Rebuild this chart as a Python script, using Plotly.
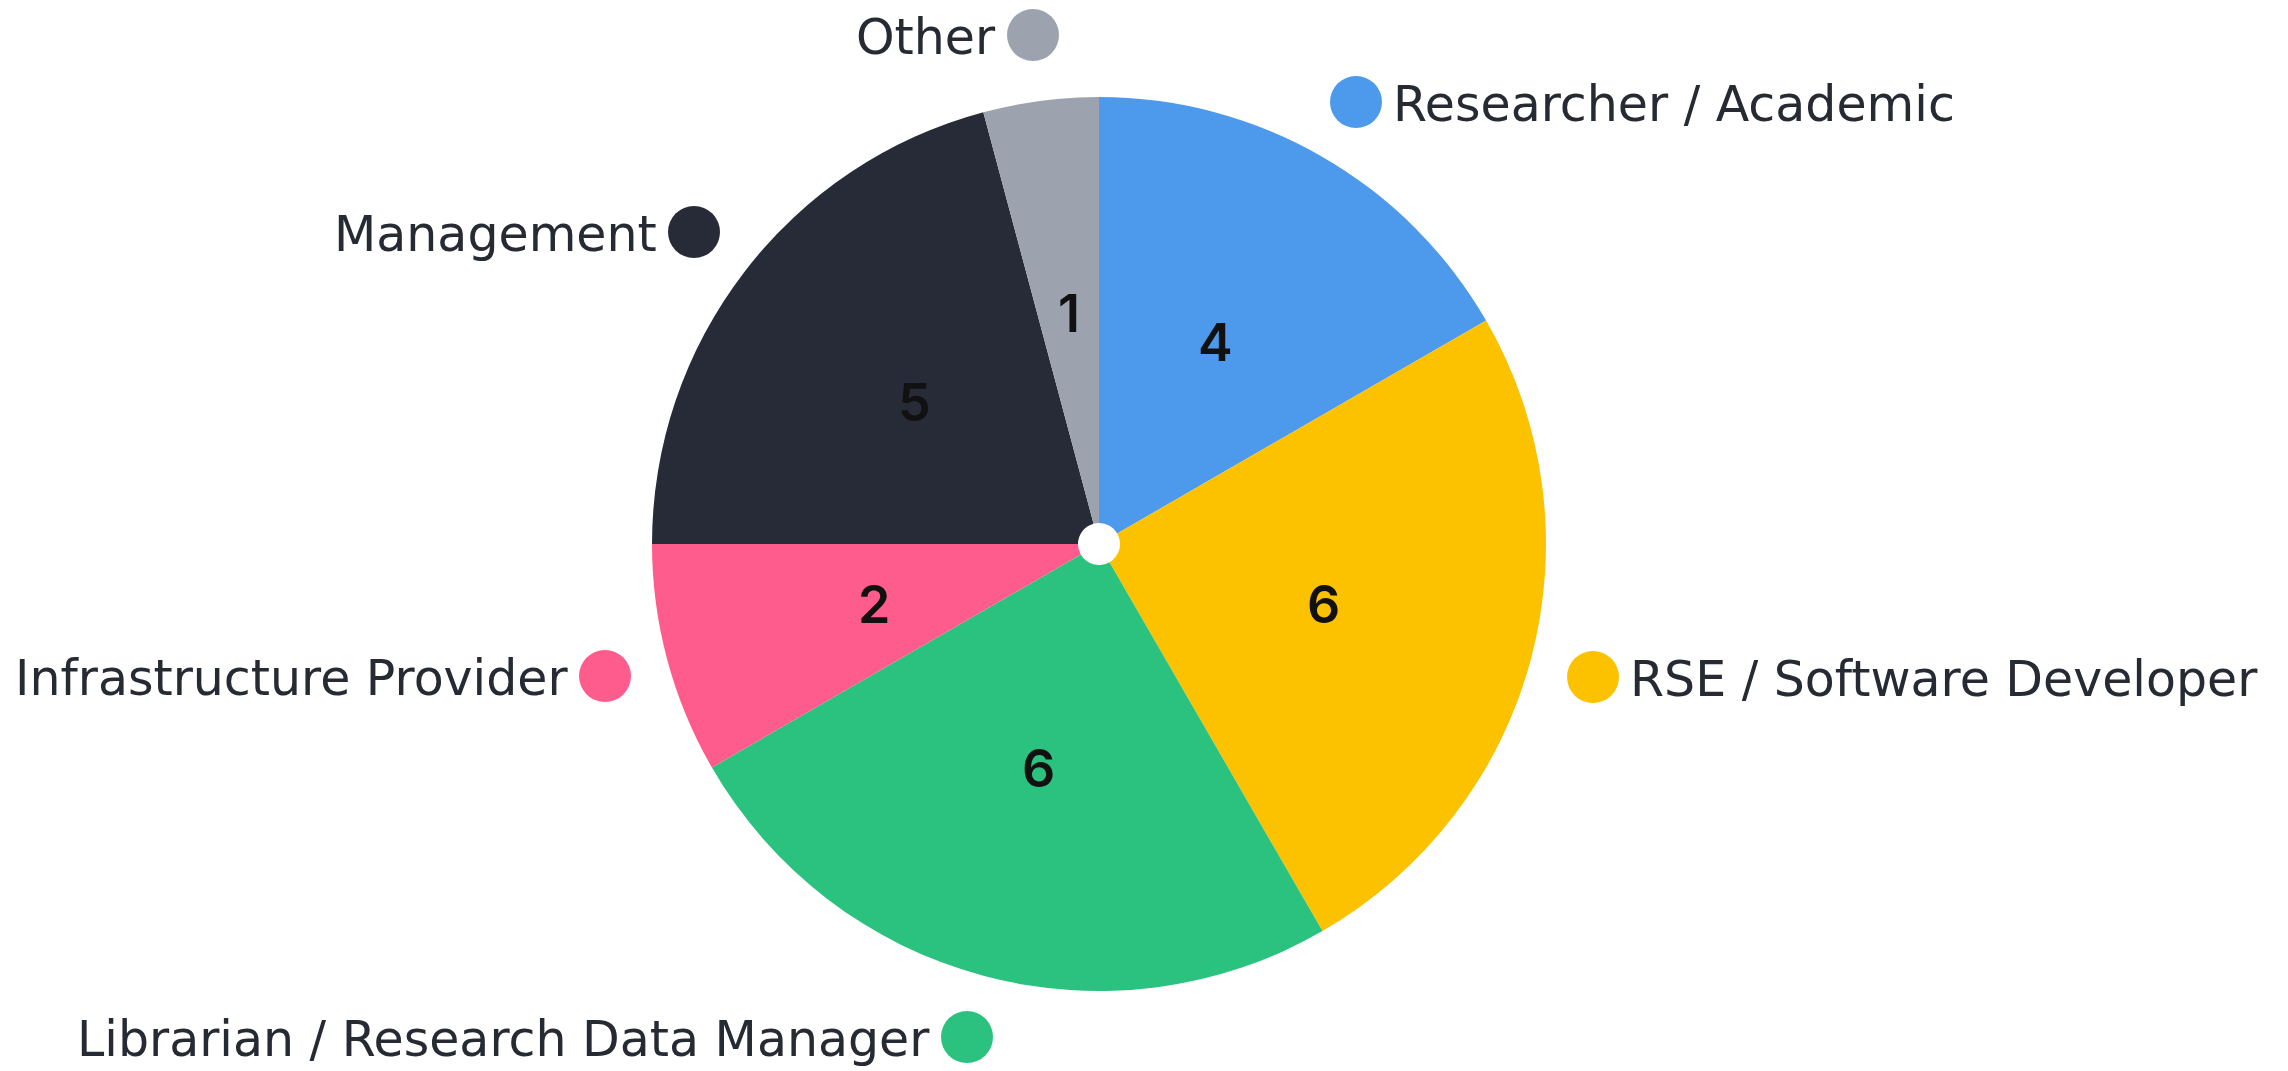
import math
import plotly.graph_objects as go

# ---- data ----
categories = ["Researcher / Academic", "RSE / Software Developer",
              "Librarian / Research Data Manager", "Infrastructure Provider",
              "Management", "Other"]
counts = [4, 6, 6, 2, 5, 1]
colors = ["#4D9AEC", "#FCC200", "#2AC27E", "#FF5C8E", "#262B37", "#9CA3AF"]

W, H = 2288, 1071
LABEL_FONT = "'DejaVu Sans', 'Noto Sans', sans-serif"
NUM_FONT = "Inter, 'DejaVu Sans', sans-serif"
TEXT_COL = "#262A33"
OFF = 8  # page body margin

# pie geometry (pixels, in page coordinates)
cx, cy, r = 1099, 544, 447

def px(x):
    return (x - OFF) / W

def py(y):
    return 1 - (y - OFF) / H

fig = go.Figure(go.Pie(
    labels=categories,
    values=counts,
    sort=False,
    direction="clockwise",
    rotation=0,
    hole=0.047,
    marker=dict(colors=colors, line=dict(width=0)),
    textinfo="none",
    showlegend=False,
    hoverinfo="label+value",
    domain=dict(x=[px(cx - r), px(cx + r)], y=[py(cy + r), py(cy - r)]),
))

annotations = []
shapes = []

# value labels inside slices at ~0.52 of the radius, on each slice's mid-angle
total = sum(counts)
cum = 0
for v in counts:
    mid = (cum + v / 2) / total * 2 * math.pi
    cum += v
    lx = cx + 0.52 * r * math.sin(mid)
    ly = cy - 0.52 * r * math.cos(mid)
    annotations.append(dict(
        x=px(lx), y=py(ly), xref="paper", yref="paper",
        text=str(v), showarrow=False, xanchor="center", yanchor="middle",
        font=dict(family=NUM_FONT, size=52, color="#111111", weight=600),
    ))

# external label placement: (dot x, dot y, side)
label_layout = {
    "Researcher / Academic": (1356, 102, "right"),
    "RSE / Software Developer": (1593, 677, "right"),
    "Librarian / Research Data Manager": (967, 1037, "left"),
    "Infrastructure Provider": (605, 676, "left"),
    "Management": (694, 232, "left"),
    "Other": (1033, 35, "left"),
}

dot_r = 26
gap = 9
for cat, col in zip(categories, colors):
    dx, dy, side = label_layout[cat]
    shapes.append(dict(
        type="circle", xref="paper", yref="paper",
        xsizemode="pixel", ysizemode="pixel",
        xanchor=px(dx), yanchor=py(dy),
        x0=-dot_r, x1=dot_r, y0=-dot_r, y1=dot_r,
        fillcolor=col, line=dict(width=0),
    ))
    if side == "right":
        tx, anchor = dx + dot_r + gap, "left"
    else:
        tx, anchor = dx - dot_r - gap, "right"
    annotations.append(dict(
        x=px(tx), y=py(dy + 2), xref="paper", yref="paper",
        text=cat, showarrow=False, xanchor=anchor, yanchor="middle",
        font=dict(family=LABEL_FONT, size=49, color=TEXT_COL),
    ))

fig.update_layout(
    width=W, height=H,
    margin=dict(l=0, r=0, t=0, b=0),
    paper_bgcolor="white", plot_bgcolor="white",
    shapes=shapes, annotations=annotations,
)

fig.write_html("out.html")
